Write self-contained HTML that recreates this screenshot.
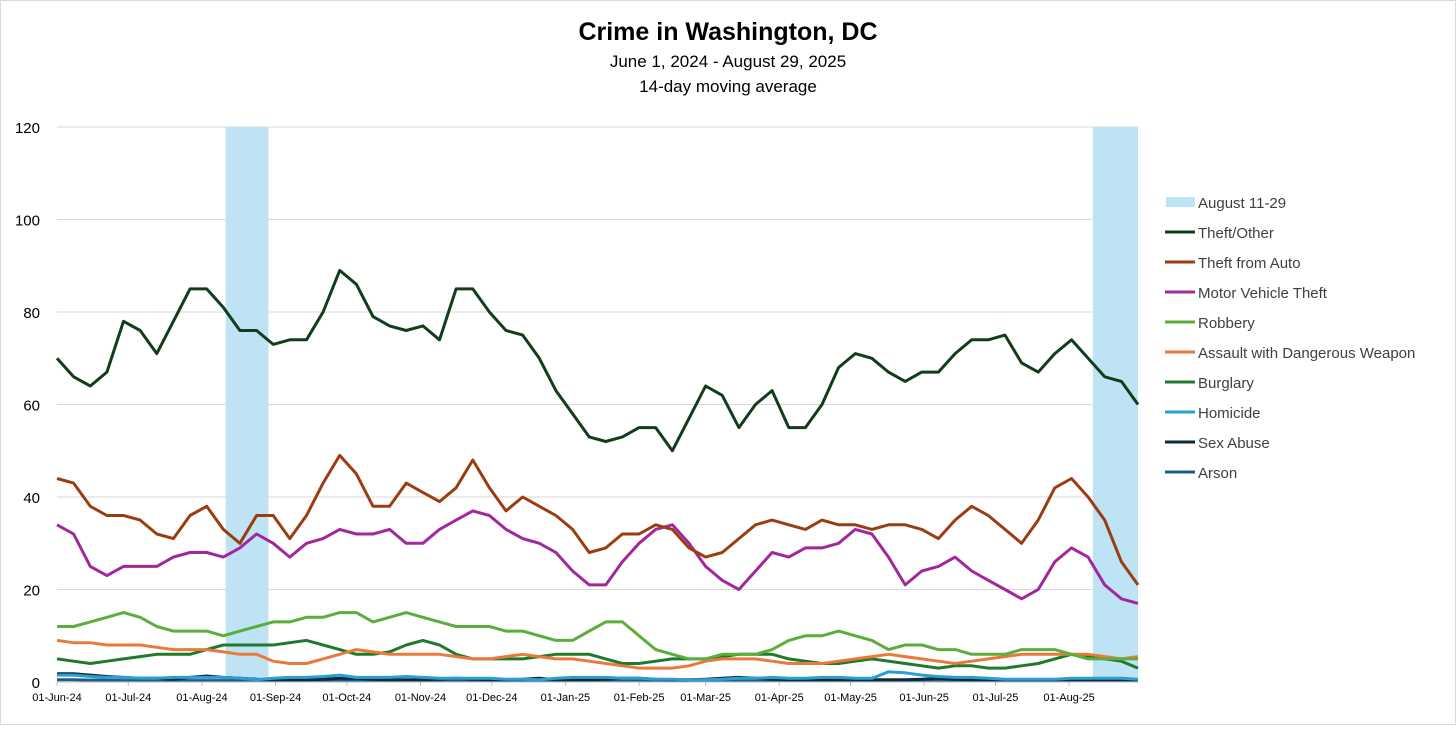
<!DOCTYPE html>
<html><head><meta charset="utf-8"><style>
html,body{margin:0;padding:0;background:#fff;}
body{width:1456px;height:725px;overflow:hidden;font-family:"Liberation Sans",sans-serif;}
svg text{font-family:"Liberation Sans",sans-serif;}
</style></head><body>
<svg id="chart" width="1456" height="725" viewBox="0 0 1456 725">
<rect x="0.5" y="0.5" width="1455" height="724" fill="#fff" stroke="#d9d9d9"/>
<text x="728" y="40" text-anchor="middle" font-size="25" font-weight="bold" fill="#000">Crime in Washington, DC</text>
<text x="728" y="67" text-anchor="middle" font-size="17" fill="#000">June 1, 2024 - August 29, 2025</text>
<text x="728" y="92" text-anchor="middle" font-size="17" fill="#000">14-day moving average</text>
<g id="plot"></g>
<g id="legend"></g>
</svg>
<script>
const seriesNames = ["Theft/Other","Theft from Auto","Motor Vehicle Theft","Robbery","Assault with Dangerous Weapon","Burglary","Homicide","Sex Abuse","Arson"];
const yTicks = [0,20,40,60,80,100,120];
const xTickLabels = ["01-Jun-24","01-Jul-24","01-Aug-24","01-Sep-24","01-Oct-24","01-Nov-24","01-Dec-24","01-Jan-25","01-Feb-25","01-Mar-25","01-Apr-25","01-May-25","01-Jun-25","01-Jul-25","01-Aug-25"];
const xTickDays = [0,30,61,92,122,153,183,214,245,273,304,334,365,395,426];
const shadeStart = [71,436];
const shadeEnd = [89,455];
const sampleStepDays = 7;
const theftOther = [70,66,64,67,78,76,71,78,85,85,81,76,76,73,74,74,80,89,86,79,77,76,77,74,85,85,80,76,75,70,63,58,53,52,53,55,55,50,57,64,62,55,60,63,55,55,60,68,71,70,67,65,67,67,71,74,74,75,69,67,71,74,70,66,65,60];
const theftAuto = [44,43,38,36,36,35,32,31,36,38,33,30,36,36,31,36,43,49,45,38,38,43,41,39,42,48,42,37,40,38,36,33,28,29,32,32,34,33,29,27,28,31,34,35,34,33,35,34,34,33,34,34,33,31,35,38,36,33,30,35,42,44,40,35,26,21];
const motorVehicle = [34,32,25,23,25,25,25,27,28,28,27,29,32,30,27,30,31,33,32,32,33,30,30,33,35,37,36,33,31,30,28,24,21,21,26,30,33,34,30,25,22,20,24,28,27,29,29,30,33,32,27,21,24,25,27,24,22,20,18,20,26,29,27,21,18,17];
const robbery = [12,12,13,14,15,14,12,11,11,11,10,11,12,13,13,14,14,15,15,13,14,15,14,13,12,12,12,11,11,10,9,9,11,13,13,10,7,6,5,5,6,6,6,7,9,10,10,11,10,9,7,8,8,7,7,6,6,6,7,7,7,6,5,5,5,5];
const assault = [9,8.5,8.5,8,8,8,7.5,7,7,7,6.5,6,6,4.5,4,4,5,6,7,6.5,6,6,6,6,5.5,5,5,5.5,6,5.5,5,5,4.5,4,3.5,3,3,3,3.5,4.5,5,5,5,4.5,4,4,4,4.5,5,5.5,6,5.5,5,4.5,4,4.5,5,5.5,6,6,6,6,6,5.5,5,5.5];
const burglary = [5,4.5,4,4.5,5,5.5,6,6,6,7,8,8,8,8,8.5,9,8,7,6,6,6.5,8,9,8,6,5,5,5,5,5.5,6,6,6,5,4,4,4.5,5,5,5,5.5,6,6,6,5,4.5,4,4,4.5,5,4.5,4,3.5,3,3.5,3.5,3,3,3.5,4,5,6,5.5,5,4.5,3];
const homicide = [1.5,1.5,1.2,1,1,0.8,0.8,1,1,1,1,0.8,0.5,0.8,1,1,1.2,1.5,1,1,1,1.2,1,0.8,0.8,0.8,0.8,0.6,0.6,0.5,0.8,1,1,1,0.8,0.8,0.6,0.6,0.5,0.5,0.6,0.8,0.8,1,0.8,0.8,1,1,0.8,0.8,2.2,2,1.5,1.2,1,1,0.8,0.6,0.6,0.6,0.6,0.8,0.8,0.8,0.8,0.6];
const sexAbuse = [1.8,1.8,1.5,1.2,1,0.8,0.8,0.6,1,1.3,1,0.8,0.6,0.5,0.5,0.5,0.6,0.8,0.8,0.6,0.5,0.5,0.5,0.6,0.8,0.6,0.5,0.5,0.6,0.8,0.5,0.5,0.5,0.6,0.8,0.8,0.6,0.5,0.5,0.6,0.8,1,0.8,0.6,0.5,0.5,0.5,0.5,0.5,0.5,0.5,0.5,0.6,0.8,0.6,0.5,0.5,0.5,0.5,0.5,0.5,0.5,0.5,0.5,0.5,0.5];
const arson = [0.5,0.5,0.4,0.4,0.3,0.3,0.3,0.3,0.3,0.3,0.3,0.3,0.3,0.3,0.3,0.3,0.3,0.3,0.3,0.3,0.3,0.3,0.3,0.3,0.3,0.3,0.3,0.3,0.3,0.3,0.3,0.3,0.3,0.3,0.3,0.3,0.3,0.3,0.3,0.3,0.3,0.3,0.3,0.3,0.3,0.3,0.3,0.3,0.3,0.3,0.3,0.3,0.3,0.3,0.3,0.3,0.3,0.3,0.3,0.3,0.3,0.3,0.3,0.3,0.3,0.3];

const NS="http://www.w3.org/2000/svg";
const X0=57, X1=1138, DMAX=455, Y0=682, Y1=127, VMAX=120;
function xs(d){return X0+(X1-X0)*d/DMAX;}
function ys(v){return Y0-(Y0-Y1)*v/VMAX;}
function mk(tag,attrs,parent){const e=document.createElementNS(NS,tag);for(const k in attrs)e.setAttribute(k,attrs[k]);parent.appendChild(e);return e;}
const plot=document.getElementById('plot');
const legend=document.getElementById('legend');

yTicks.forEach(t=>{
  if(t>0){const g=mk('line',{x1:X0,x2:X1,y1:ys(t),y2:ys(t),stroke:'#d9d9d9','stroke-width':1},plot);
  
  }
  const tx=mk('text',{x:40,y:ys(t)+6,'text-anchor':'end','font-size':15,fill:'#000'},plot);
  tx.textContent=t;
  
  
});
for(let i=0;i<shadeStart.length;i++){
  const r=mk('rect',{x:xs(shadeStart[i]),y:Y1,width:xs(shadeEnd[i])-xs(shadeStart[i]),height:Y0-Y1,fill:'#bde3f4'},plot);
  
  
}
xTickLabels.forEach((l,i)=>{
  const d=xTickDays[i];
  const tk=mk('line',{x1:xs(d),x2:xs(d),y1:Y0,y2:Y0+4,stroke:'#bfbfbf'},plot);
  
  
  const tx=mk('text',{x:xs(d),y:701,'text-anchor':'middle','font-size':11,fill:'#000'},plot);
  tx.textContent=l;
  
  
});
const seriesData=[theftOther,theftAuto,motorVehicle,robbery,assault,burglary,homicide,sexAbuse,arson];
const colors=['#123d1c','#9a3e12','#a0289c','#5cae3c','#ea7a3c','#1f7a2c','#2a9fd6','#0e2a3a','#1c5c86'];
const slugs=['theft-other','theft-from-auto','motor-vehicle-theft','robbery','assault-with-dangerous-weapon','burglary','homicide','sex-abuse','arson'];
for(let s=seriesData.length-1;s>=0;s--){
  const arr=seriesData[s];
  const pts=arr.map((v,i)=>xs(Math.min(i*sampleStepDays,DMAX)).toFixed(1)+','+ys(v).toFixed(1)).join(' ');
  const p=mk('polyline',{points:pts,fill:'none',stroke:colors[s],'stroke-width':3,'stroke-linejoin':'round'},plot);
  
  
}
const ax=mk('line',{x1:X0,x2:X1,y1:Y0,y2:Y0,stroke:'#bfbfbf'},plot);



// legend
const lr=mk('rect',{x:1166,y:197,width:29,height:10,fill:'#bde3f4'},legend);


const lt=mk('text',{x:1198,y:208,'font-size':15,fill:'#404040'},legend);
lt.textContent='August 11-29';


seriesNames.forEach((n,i)=>{
  const y=232+30*i;
  const l=mk('line',{x1:1165,x2:1195,y1:y,y2:y,stroke:colors[i],'stroke-width':3},legend);
  
  
  const t=mk('text',{x:1198,y:y+6,'font-size':15,fill:'#404040'},legend);
  t.textContent=n;
  
  
});
</script>
</body></html>
